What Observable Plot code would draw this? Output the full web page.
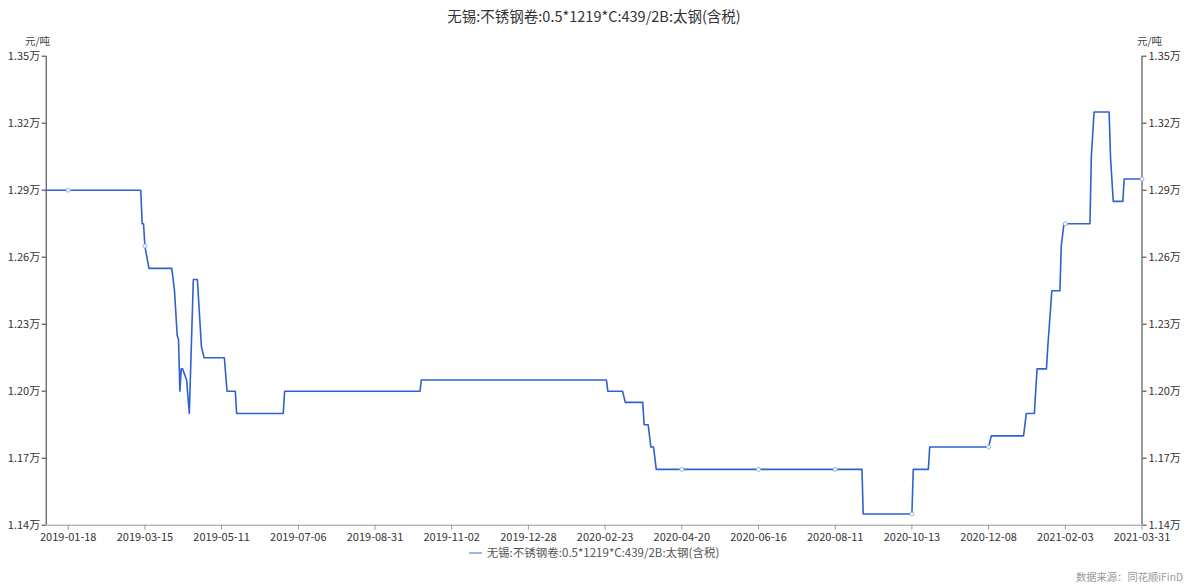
<!DOCTYPE html>
<html>
<head>
<meta charset="utf-8">
<script src="https://cdn.jsdelivr.net/npm/d3@7"></script>
<script src="https://cdn.jsdelivr.net/npm/@observablehq/plot@0.6"></script>
<style>
  body { margin: 0; background: #fff; font-family: "Noto Sans CJK SC", "Noto Sans", sans-serif; }
  #wrap { position: relative; width: 1188px; height: 586px; overflow: hidden; }
  #chart { position: absolute; left: 0; top: 0; }
  #title { position: absolute; top: 5px; left: 0; width: 1188px; text-align: center; font-size: 14.5px; color: #333; }
  .unit { position: absolute; top: 34px; font-size: 10.5px; line-height: 13px; color: #444; }
  #legend { position: absolute; top: 546px; left: 0; width: 1188px; text-align: center; font-size: 11.5px; line-height: 13px; color: #555; }
  #legend .sw { display: inline-block; width: 13px; height: 2px; background: #9db6e8; vertical-align: middle; margin-right: 5px; position: relative; top: -1px; }
  #caption { position: absolute; top: 570px; right: 5px; font-size: 10.3px; line-height: 13px; color: #999; }
</style>
</head>
<body>
<div id="wrap">
  <div id="chart"></div>
  <div id="title"></div>
  <div class="unit" id="unitL" style="left:25px;"></div>
  <div class="unit" id="unitR" style="left:1137px;"></div>
  <div id="legend"></div>
  <div id="caption"></div>
</div>
<script>
// ---- data ----
const titleText = "无锡:不锈钢卷:0.5*1219*C:439/2B:太钢(含税)";
const seriesName = "无锡:不锈钢卷:0.5*1219*C:439/2B:太钢(含税)";
const unitText = "元/吨";
const sourceText = "数据来源：同花顺iFinD";

const startDate = "2019-01-02";
const tickDates = ["2019-01-18","2019-03-15","2019-05-11","2019-07-06","2019-08-31","2019-11-02","2019-12-28",
  "2020-02-23","2020-04-20","2020-06-16","2020-08-11","2020-10-13","2020-12-08","2021-02-03","2021-03-31"];
const yTicks = [11400, 11700, 12000, 12300, 12600, 12900, 13200, 13500];

const seriesDates = [
  "2019-01-02","2019-03-12","2019-03-13","2019-03-14","2019-03-15","2019-03-18","2019-04-04","2019-04-06",
  "2019-04-08","2019-04-09","2019-04-10","2019-04-11","2019-04-12","2019-04-15","2019-04-17","2019-04-19",
  "2019-04-20","2019-04-23","2019-04-24","2019-04-26","2019-04-28","2019-05-13","2019-05-15","2019-05-21",
  "2019-05-22","2019-06-25","2019-06-26","2019-10-07","2019-10-08","2020-02-24","2020-02-25","2020-03-07",
  "2020-03-09","2020-03-22","2020-03-23","2020-03-26","2020-03-28","2020-03-30","2020-04-01","2020-09-02",
  "2020-09-03","2020-10-13","2020-10-14","2020-10-25","2020-10-26","2020-12-08","2020-12-10","2021-01-03",
  "2021-01-05","2021-01-11","2021-01-13","2021-01-20","2021-01-21","2021-01-24","2021-01-30","2021-01-31",
  "2021-02-02","2021-02-21","2021-02-22","2021-02-24","2021-03-07","2021-03-08","2021-03-10","2021-03-17",
  "2021-03-18","2021-03-31"];
const seriesValues = [
  12900,12900,12750,12750,12650,12550,12550,12450,
  12250,12230,12000,12100,12100,12050,11900,12300,
  12500,12500,12400,12200,12150,12150,12000,12000,
  11900,11900,12000,12000,12050,12050,12000,12000,
  11950,11950,11850,11850,11750,11750,11650,11650,
  11450,11450,11650,11650,11750,11750,11800,11800,
  11900,11900,12100,12100,12200,12450,12450,12650,
  12750,12750,13050,13250,13250,13050,12850,12850,
  12950,12950];

const markerDates = ["2019-01-18","2019-03-15","2020-04-20","2020-06-16","2020-08-11","2020-10-13","2020-12-08","2021-02-03","2021-03-31"];
const markerValues = [12900, 12650, 11650, 11650, 11650, 11450, 11750, 12750, 12950];

// ---- build ----
const parse = d3.utcParse("%Y-%m-%d");
const data = seriesDates.map((d, i) => ({date: parse(d), value: seriesValues[i]}));
const markers = markerDates.map((d, i) => ({date: parse(d), value: markerValues[i]}));

const W = 1188, H = 586;
const mL = 45.7, mR = 46.5, mT = 55.7, mB = 61.3;
const firstTick = mL + 22;
const lastTick = W - mR;
const step = (lastTick - firstTick) / (tickDates.length - 1);
const xDomain = [parse(startDate), ...tickDates.map(parse)];
const xRange = [mL, ...tickDates.map((_, i) => firstTick + i * step)];

const fmtY = v => (v / 10000).toFixed(2) + "万";
const font = '"Noto Sans CJK SC", "Noto Sans", sans-serif';

const chart = Plot.plot({
  width: W, height: H,
  marginLeft: mL, marginRight: mR, marginTop: mT, marginBottom: mB,
  style: {fontFamily: font, fontSize: "11px", background: "transparent", overflow: "visible"},
  x: {type: "utc", domain: xDomain, range: xRange},
  y: {domain: [11400, 13500]},
  marks: [
    Plot.ruleY([11400], {stroke: "#999", strokeWidth: 1}),
    Plot.ruleX([parse(startDate)], {stroke: "#333", strokeWidth: 1}),
    Plot.ruleX([parse(tickDates[tickDates.length - 1])], {stroke: "#333", strokeWidth: 1}),
    Plot.axisY({anchor: "left", ticks: yTicks, tickFormat: fmtY, tickSize: 4, tickPadding: 2, label: null, stroke: "#333", fill: "#333", fontSize: 11}),
    Plot.axisY({anchor: "right", ticks: yTicks, tickFormat: fmtY, tickSize: 4, tickPadding: 2.5, label: null, stroke: "#333", fill: "#333", fontSize: 11}),
    Plot.axisX({ticks: tickDates.map(parse), tickFormat: d3.utcFormat("%Y-%m-%d"), tickSize: 5, tickPadding: 3.2, label: null, stroke: "#999", fill: "#333", fontSize: 11}),
    Plot.line(data, {x: "date", y: "value", stroke: "#2f62cf", strokeWidth: 1.6, strokeLinejoin: "round"}),
    Plot.dot(markers, {x: "date", y: "value", r: 2, stroke: "#8fb0ea", fill: "white", strokeWidth: 1})
  ]
});
document.getElementById("chart").appendChild(chart);
document.getElementById("title").textContent = titleText;
document.getElementById("unitL").textContent = unitText;
document.getElementById("unitR").textContent = unitText;
document.getElementById("legend").innerHTML = '<span class="sw"></span>' + seriesName;
document.getElementById("caption").textContent = sourceText;
</script>
</body>
</html>
